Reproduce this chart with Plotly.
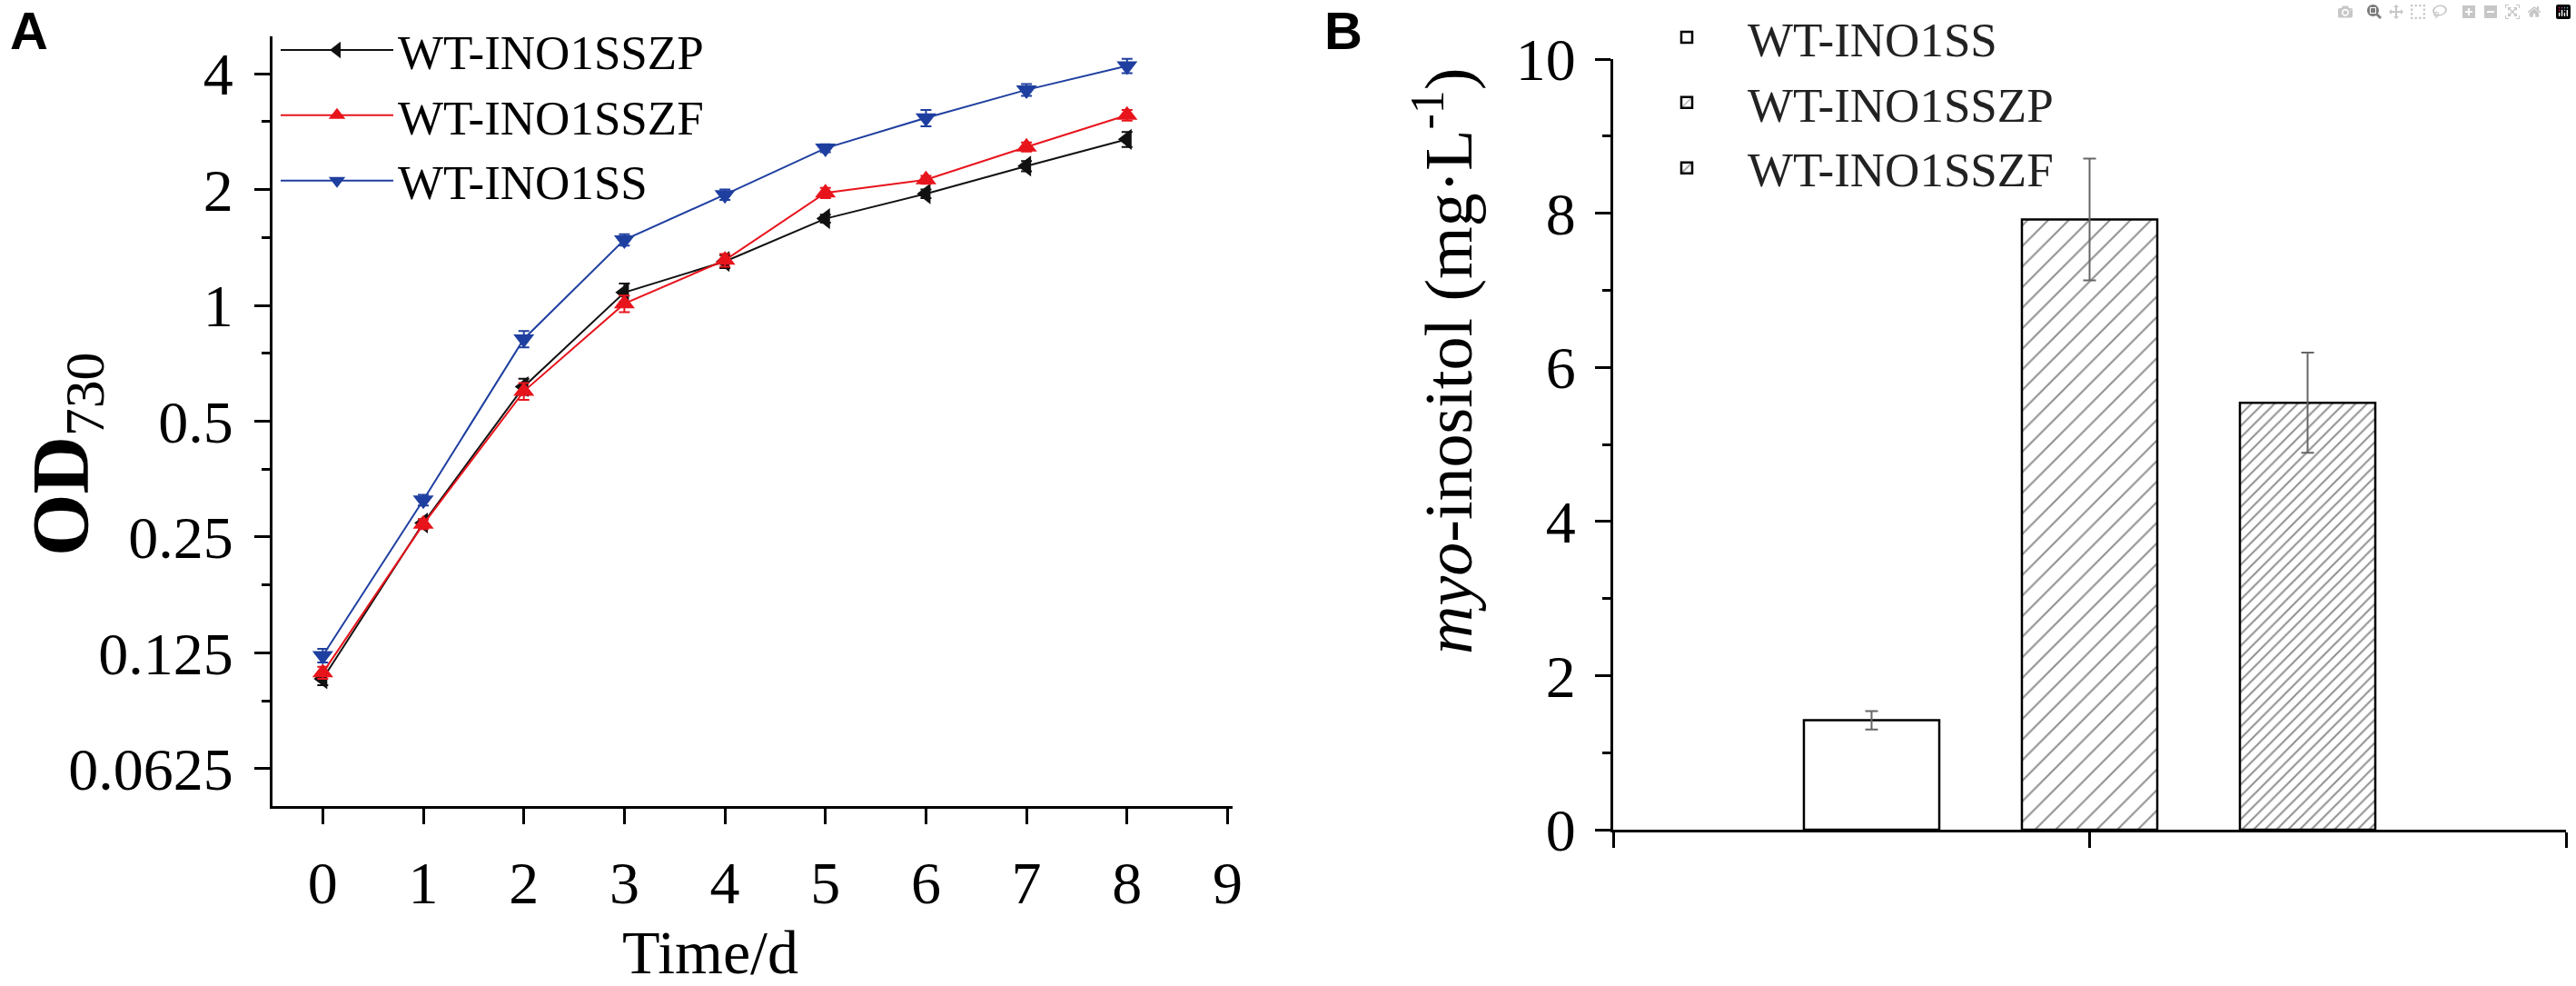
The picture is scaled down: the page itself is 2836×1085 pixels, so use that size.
import plotly.graph_objects as go

# ---------------- data ----------------
days = [0, 1, 2, 3, 4, 5, 6, 7, 8]
od_zp = [0.107, 0.272, 0.615, 1.08, 1.30, 1.68, 1.95, 2.30, 2.70]
od_zp_err = [0.004, 0.006, 0.03, 0.06, 0.05, 0.04, 0.05, 0.07, 0.12]
od_zf = [0.111, 0.270, 0.598, 1.01, 1.31, 1.96, 2.12, 2.58, 3.12]
od_zf_err = [0.004, 0.008, 0.03, 0.05, 0.05, 0.06, 0.05, 0.07, 0.10]
od_ss = [0.123, 0.312, 0.818, 1.48, 1.94, 2.56, 3.07, 3.63, 4.19]
od_ss_err = [0.005, 0.010, 0.04, 0.05, 0.06, 0.06, 0.15, 0.13, 0.18]

od_ticks = [4, 2, 1, 0.5, 0.25, 0.125, 0.0625]
od_ticktext = ["4", "2", "1", "0.5", "0.25", "0.125", "0.0625"]
od_minor = [3, 1.5, 0.75, 0.375, 0.1875, 0.09375]
day_ticks = [0, 1, 2, 3, 4, 5, 6, 7, 8, 9]

strains = ["WT-INO1SS", "WT-INO1SSZP", "WT-INO1SSZF"]
inositol = [1.42, 7.92, 5.54]
inositol_err = [0.12, 0.79, 0.65]
ino_ticks = [0, 2, 4, 6, 8, 10]
ino_minor = [1, 3, 5, 7, 9]

# ---------------- styling ----------------
W, H = 2836, 1085
SERIF = "Liberation Serif, Times New Roman, serif"
SANS = "Liberation Sans, Arial, sans-serif"
BLACK = "#111111"
RED = "#E8141C"
BLUE = "#1F3FA0"


def px_x(v):
    return v / W


def px_y(v):
    return 1 - v / H


fig = go.Figure()

line_series = [
    ("WT-INO1SSZP", od_zp, od_zp_err, BLACK, "triangle-left"),
    ("WT-INO1SSZF", od_zf, od_zf_err, RED, "triangle-up"),
    ("WT-INO1SS", od_ss, od_ss_err, BLUE, "triangle-down"),
]
for name, vals, errs, col, sym in line_series:
    fig.add_trace(go.Scatter(
        x=days, y=vals, name=name, mode="lines+markers",
        line=dict(color=col, width=2),
        marker=dict(symbol=sym, size=20, color=col),
        error_y=dict(type="data", array=errs, color=col, thickness=2, width=6),
        xaxis="x", yaxis="y", legend="legend",
    ))

patterns = [
    dict(shape="", fgcolor="#222222", bgcolor="white"),
    dict(shape="/", size=16, solidity=0.13, fgcolor="#222222", bgcolor="white"),
    dict(shape="/", size=9, solidity=0.22, fgcolor="#222222", bgcolor="white"),
]
for name, val, err, pat in zip(strains, inositol, inositol_err, patterns):
    fig.add_trace(go.Bar(
        x=[1], y=[val], name=name,
        marker=dict(color="white", line=dict(color="black", width=2.5), pattern=pat),
        error_y=dict(type="data", array=[err], color="#666666", thickness=2, width=7),
        xaxis="x2", yaxis="y2", legend="legend2",
    ))

axis_common = dict(
    showline=True, linecolor="black", linewidth=3, mirror=False,
    ticks="outside", ticklen=17, tickwidth=3, tickcolor="black",
    showgrid=False, zeroline=False,
    tickfont=dict(family=SERIF, size=66, color="black"),
)

fig.update_layout(
    width=W, height=H, autosize=False,
    margin=dict(l=0, r=0, t=0, b=0, pad=0, autoexpand=False),
    paper_bgcolor="white", plot_bgcolor="white",
    barmode="group", bargap=0.3136, bargroupgap=0.379,
    xaxis=dict(
        domain=[px_x(300), px_x(1357)], range=[-0.5, 9.05],
        tickvals=day_ticks, anchor="y", ticklabelstandoff=8, **axis_common,
    ),
    yaxis=dict(
        domain=[px_y(887), px_y(40)], type="log",
        range=[-1.30103, 0.69897],
        tickvals=od_ticks, ticktext=od_ticktext, anchor="x", ticklabelstandoff=10,
        minor=dict(tickvals=od_minor, ticks="outside", ticklen=9, tickwidth=3,
                   tickcolor="black", showgrid=False),
        **axis_common,
    ),
    xaxis2=dict(
        domain=[px_x(1776), px_x(2825)], range=[0.5, 1.5],
        tickvals=[0.5, 1, 1.5], showticklabels=False, anchor="y2", **axis_common,
    ),
    yaxis2=dict(
        domain=[px_y(913), px_y(65)], range=[0, 10],
        tickvals=ino_ticks, anchor="x2", ticklabelstandoff=8,
        minor=dict(tickvals=ino_minor, ticks="outside", ticklen=9, tickwidth=3,
                   tickcolor="black", showgrid=False),
        **axis_common,
    ),
    legend=dict(
        x=px_x(304), y=px_y(14), xanchor="left", yanchor="top",
        bgcolor="rgba(0,0,0,0)", borderwidth=0,
        font=dict(family=SERIF, size=53, color="black"),
        itemwidth=124, tracegroupgap=0,
    ),
    legend2=dict(
        x=px_x(1790), y=px_y(0), xanchor="left", yanchor="top",
        bgcolor="rgba(0,0,0,0)", borderwidth=0,
        font=dict(family=SERIF, size=53, color="#222222"),
        itemwidth=124, tracegroupgap=0,
    ),
    annotations=[
        dict(text="<b>A</b>", x=px_x(32), y=px_y(33), xref="paper", yref="paper",
             xanchor="center", yanchor="middle",
             showarrow=False, font=dict(family=SANS, size=58, color="black")),
        dict(text="<b>B</b>", x=px_x(1479), y=px_y(34), xref="paper", yref="paper",
             xanchor="center", yanchor="middle",
             showarrow=False, font=dict(family=SANS, size=58, color="black")),
        dict(text="<b>OD</b><sub>730</sub>", x=px_x(72), y=px_y(500),
             xref="paper", yref="paper", textangle=-90, showarrow=False,
             xanchor="center", yanchor="middle",
             font=dict(family=SERIF, size=88, color="black")),
        dict(text="Time/d", x=px_x(782), y=px_y(1048), xref="paper", yref="paper",
             xanchor="center", yanchor="middle",
             showarrow=False, font=dict(family=SERIF, size=68, color="black")),
        dict(text="<i>myo</i>-inositol (mg·L<sup>-1</sup>)", x=px_x(1590), y=px_y(398),
             xref="paper", yref="paper", textangle=-90, showarrow=False,
             xanchor="center", yanchor="middle",
             font=dict(family=SERIF, size=74, color="black")),
    ],
)

fig.write_html("out.html")
with open("out.html", "r", encoding="utf-8") as f:
    html = f.read()
html = html.replace("<head>", "<head><style>html,body{margin:0;padding:0;overflow:hidden}</style>", 1)
with open("out.html", "w", encoding="utf-8") as f:
    f.write(html)
